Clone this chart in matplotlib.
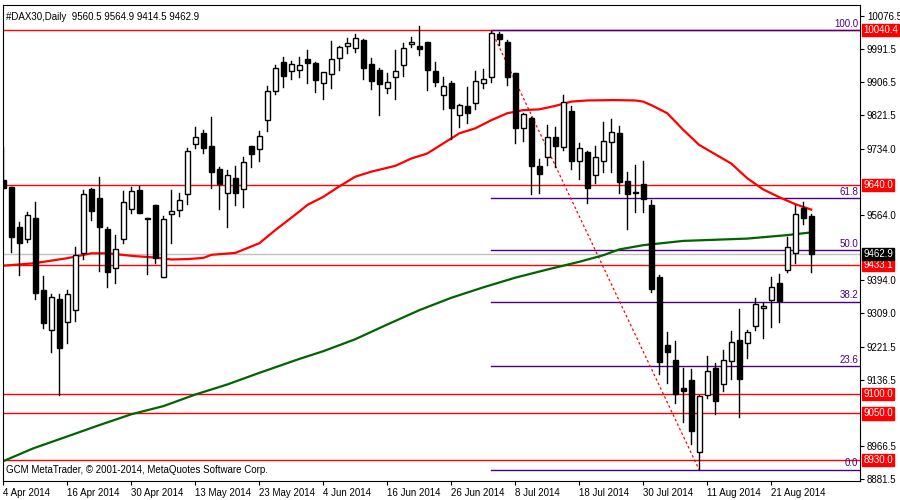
import matplotlib
matplotlib.use("Agg")
import matplotlib.pyplot as plt
from matplotlib.patches import Rectangle

plt.rcParams['font.family'] = ['Liberation Sans', 'DejaVu Sans']

opens = [9653,9636,9531,9502,9554,9369,9267,9345,9287,9317,9465,9630,9606,9528,9425,9502,9578,9627,9554,9589,
         9404,9565,9576,9616,9746,9774,9740,9682,9619,9658,9629,9740,9734,9809,9883,9959,9935,9938,9965,9957,
         9903,9927,9968,10000,9994,10015,9953,9938,9890,9919,9951,10004,10001,10009,9935,9872,9903,9821,9845,9852,
         9903,9920,10031,10009,9931,9787,9814,9690,9713,9765,9738,9832,9703,9725,9666,9703,9751,9774,9651,9623,
         9643,9589,9404,9227,9188,9115,9137,8950,9098,9168,9126,9186,9240,9231,9276,9322,9343,9386,9421,9466,
         9580,9560.5]
highs = [9739,9636,9546,9571,9597,9405,9360,9360,9369,9481,9628,9632,9662,9533,9511,9625,9636,9638,9554,9589,
         9560,9627,9621,9735,9791,9783,9815,9688,9679,9690,9714,9741,9781,9896,9951,9972,9961,9972,9989,9959,
         9931,10013,10001,10020,10031,10017,9970,9942,9929,9989,10007,10024,10051,10011,9958,9919,9909,9851,9893,9935,
         9940,10039,10037,10015,9931,9827,9815,9708,9795,9791,9873,9845,9748,9729,9742,9804,9811,9793,9673,9692,
         9703,9603,9407,9260,9238,9168,9164,9098,9199,9180,9214,9263,9321,9267,9349,9336,9403,9410,9507,9589,
         9597,9564.9]
lows = [9632,9468,9408,9494,9347,9270,9209,9099,9233,9290,9450,9550,9419,9378,9386,9491,9569,9569,9410,9440,
        9404,9490,9561,9591,9735,9722,9632,9578,9533,9590,9583,9688,9703,9781,9876,9895,9915,9920,9903,9882,
        9864,9892,9939,9981,9983,9915,9889,9822,9877,9862,9923,9996,9977,9887,9897,9837,9759,9791,9802,9836,
        9892,9907,10002,9899,9750,9753,9616,9621,9692,9688,9731,9681,9655,9595,9645,9675,9675,9619,9526,9572,
        9572,9364,9152,9128,9078,9029,8971,8906,9089,9049,9109,9139,9040,9193,9267,9244,9274,9287,9416,9440,
        9540,9414.5]
closes = [9632,9507,9491,9563,9362,9285,9350,9220,9360,9459,9616,9574,9533,9416,9474,9596,9625,9569,9552,9453,
          9553,9573,9603,9729,9764,9735,9675,9642,9666,9621,9701,9720,9767,9883,9942,9923,9952,9951,9957,9913,
          9932,9965,9996,10007,10020,9944,9908,9901,9906,9935,9994,10009,9993,9939,9906,9897,9839,9846,9827,9910,
          9914,10033,10017,9919,9787,9823,9690,9668,9765,9740,9856,9702,9737,9634,9712,9755,9778,9648,9616,9621,
          9604,9373,9184,9210,9100,9109,9006,9095,9160,9083,9187,9236,9139,9261,9332,9328,9378,9341,9481,9565,
          9556,9462.9]

red_ma_x = [0,3.75,7.9,11,13,16.25,19,21,23,25,26,29,32,34,37,38,40,42,44,46,49,51,53,55,57,59,61,63,65,67,69,71,73,76.25,79,80,81,83,85,87,89,91,93,95,97,99,101]
red_ma_y = [9432,9438,9451,9464,9464,9457,9453,9448,9449,9452,9460,9465,9490,9524,9572,9589,9610,9637,9662,9675,9690,9709,9722,9748,9774,9787,9808,9826,9834,9836,9845,9856,9859,9860,9859,9856,9847,9826,9783,9744,9720,9696,9658,9629,9609,9591,9577]
green_ma_x = [0,3.75,7.9,12,16,20,24,28,32,37,40,44,48,52,56,60,64,68,72,75,77,80,85,93,98,101]
green_ma_y = [8927,8960,8990,9020,9048,9069,9099,9125,9155,9191,9211,9242,9280,9317,9349,9376,9401,9422,9442,9459,9474,9485,9496,9502,9511,9518]

red_levels = [10040.4, 9640.0, 9433.1, 9100.0, 9050.0, 8930.0]
fib_labels = ["100.0", "61.8", "50.0", "38.2", "23.6", "0.0"]
fib_ratios = [1.0, 0.618, 0.5, 0.382, 0.236, 0.0]
fib_high, fib_low = 10040.4, 8904.0
fib_start, fib_end_idx = 61, 87
last_price = 9462.9
y_ticks = [10076.5, 9991.5, 9906.5, 9821.5, 9734.0, 9564.0, 9394.0, 9309.0, 9221.5, 9136.5, 8966.5, 8881.5]
date_idx = [0, 8, 16, 24, 32, 40, 48, 56, 64, 72, 80, 88, 96]
date_lbl = ["4 Apr 2014", "16 Apr 2014", "30 Apr 2014", "13 May 2014", "23 May 2014", "4 Jun 2014", "16 Jun 2014",
            "26 Jun 2014", "8 Jul 2014", "18 Jul 2014", "30 Jul 2014", "11 Aug 2014", "21 Aug 2014"]

fig = plt.figure(figsize=(9, 5), dpi=100)
ax = fig.add_axes([3/900, 19/500, 857/900, 476/500])
ax.set_xlim(-0.05, 107.1)
ax.set_ylim(8875.5, 10105.7)
FS = 7

for v in red_levels:
    ax.axhline(v, color="#ff0000", lw=1, zorder=1)
ax.axhline(last_price, color="#c0c0c0", lw=1, zorder=1)
fr = fib_high - fib_low
for lab, r in zip(fib_labels, fib_ratios):
    lv = fib_low + r * fr
    ax.plot([fib_start, 107.1], [lv, lv], color="#4b0082", lw=1, zorder=1.5)
    ax.text(106.9, lv + 4, lab, color="#4b0082", fontsize=FS, ha="right", va="bottom")
ax.plot([fib_start, fib_end_idx], [fib_high, fib_low], color="#ff0000", lw=0.9, ls=(0, (2, 2)), zorder=1.5)

ax.plot(green_ma_x, green_ma_y, color="#006400", lw=1.6, zorder=2)
ax.plot(red_ma_x, red_ma_y, color="#ff0000", lw=1.6, zorder=2)

w = 0.6
for i, (o, h, l, c) in enumerate(zip(opens, highs, lows, closes)):
    ax.plot([i, i], [l, h], color="black", lw=1, zorder=3)
    bull = c >= o
    ax.add_patch(Rectangle((i - w/2, min(o, c)), w, max(abs(c - o), 1.5),
                           facecolor="white" if bull else "black", edgecolor="black", lw=1, zorder=4))

ax.yaxis.tick_right()
ax.set_yticks(y_ticks)
ax.set_yticklabels([f"{v:.1f}" for v in y_ticks], fontsize=FS)
ax.tick_params(axis="y", length=3, pad=2)
ax.set_xticks(date_idx)
ax.set_xticklabels(date_lbl, fontsize=FS, ha="left")
ax.tick_params(axis="x", length=3, pad=2)

def box(v, txt, fc):
    ax.text(1.004, v, txt, transform=ax.get_yaxis_transform(), fontsize=FS, color="white", va="center", ha="left",
            bbox=dict(boxstyle="square,pad=0.12", fc=fc, ec=fc), zorder=10)
for v in red_levels:
    box(v, f"{v:.1f}", "#ff0000")
box(last_price, f"{last_price:.1f}", "black")

ax.text(0.003, 0.985, "#DAX30,Daily  9560.5 9564.9 9414.5 9462.9", transform=ax.transAxes, fontsize=FS, va="top")
ax.text(0.003, 0.012, "GCM MetaTrader, © 2001-2014, MetaQuotes Software Corp.", transform=ax.transAxes, fontsize=FS, va="bottom")

fig.savefig("out.png", dpi=100)
